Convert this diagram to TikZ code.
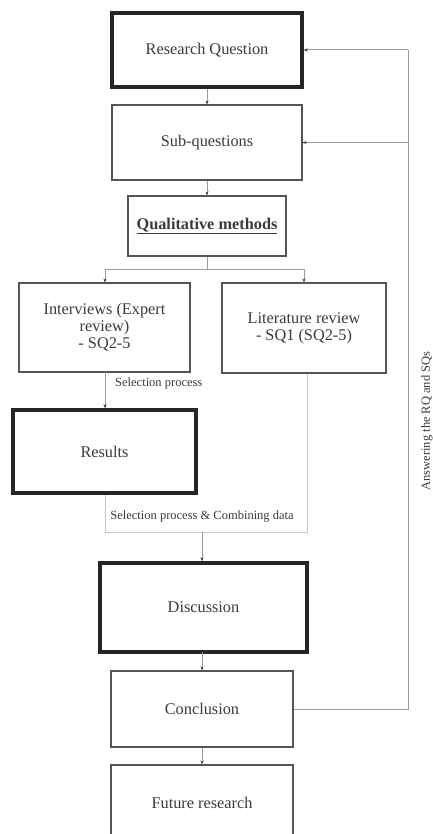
\documentclass[tikz,border=0pt]{standalone}
\usepackage{fontspec}
\setmainfont{Liberation Serif}
\usetikzlibrary{arrows.meta}
\definecolor{txt}{HTML}{3A3A3A}
\definecolor{boxc}{HTML}{555555}
\definecolor{linec}{HTML}{9A9A9A}
\definecolor{lightc}{HTML}{C8C8C8}
\begin{document}
\begin{tikzpicture}[x=1pt,y=-1pt,
  box/.style={draw=boxc,line width=1.1pt,rectangle,inner sep=2pt,align=center,text=txt,font=\fontsize{16.3}{17}\selectfont},
  thickbox/.style={box,draw=black!85,line width=3.5pt},
  conn/.style={draw=linec,line width=1pt},
  arr/.style={conn,-{Stealth[length=4pt,width=3pt,color=black!80]}},
  small/.style={text=txt,font=\fontsize{12.5}{14}\selectfont,inner sep=0pt}]
\useasboundingbox (0,0) rectangle (432,834);
\clip (0,0) rectangle (432,834);
\node[thickbox,minimum width=190pt,minimum height=74pt] (rq) at (207,50) {Research Question};
\node[box,minimum width=190pt,minimum height=75pt] (sq) at (207,142.5) {Sub-questions};
\node[box,minimum width=158pt,minimum height=60pt] (qm) at (207,226) {\textbf{\underline{Qualitative methods}}};
\node[box,minimum width=171pt,minimum height=89pt] (int) at (104.5,327.5) {Interviews (Expert\\review)\\- SQ2-5};
\node[box,minimum width=164pt,minimum height=90pt] (lit) at (304,328) {Literature review\\- SQ1 (SQ2-5)};
\node[thickbox,minimum width=183pt,minimum height=83pt] (res) at (104.5,451.5) {Results};
\node[thickbox,minimum width=207pt,minimum height=89pt] (dis) at (203.5,607.5) {Discussion};
\node[box,minimum width=182pt,minimum height=76pt] (con) at (202,709) {Conclusion};
\node[box,minimum width=182pt,minimum height=76pt] (fut) at (202,803) {Future research};
% branches
\coordinate (br) at (207,269);
\coordinate (brl) at (105,269);
\coordinate (brr) at (304,269);
\draw[conn] (qm.south) -- (br);
\draw[conn] (brl) -- (brr);
\draw[arr] (brl) -- (brl |- int.north);
\draw[arr] (brr) -- (brr |- lit.north);
\draw[arr] (rq.south) -- (sq.north);
\draw[arr] (sq.south) -- (qm.north);
\draw[arr] (105,372) coordinate (ib) -- (ib |- res.north);
\node[small,anchor=west] (sel) at (115,383) {Selection process};
% combining
\coordinate (cl) at (105,532);
\coordinate (cr) at (307,532);
\coordinate (cm) at (202,532);
\draw[draw=lightc,line width=1pt] (cl |- res.south) -- (cl) -- (cr) -- (cr |- lit.south);
\node[small] (comb) at (202,517) {Selection process \& Combining data};
\draw[arr] (cm) -- (cm |- dis.north);
\draw[arr] (202,652) coordinate (db) -- (db |- con.north);
\draw[arr] (con.south) -- (fut.north);
% feedback
\coordinate (fb) at (408,709);
\coordinate (ft) at (408,50);
\coordinate (fs) at (408,142.5);
\draw[conn] (con.east) -- (fb) -- (ft);
\draw[arr] (ft) -- (rq.east);
\draw[arr] (fs) -- (sq.east);
\node[small,rotate=90] (ans) at (427,421) {Answering the RQ and SQs};
\end{tikzpicture}
\end{document}
